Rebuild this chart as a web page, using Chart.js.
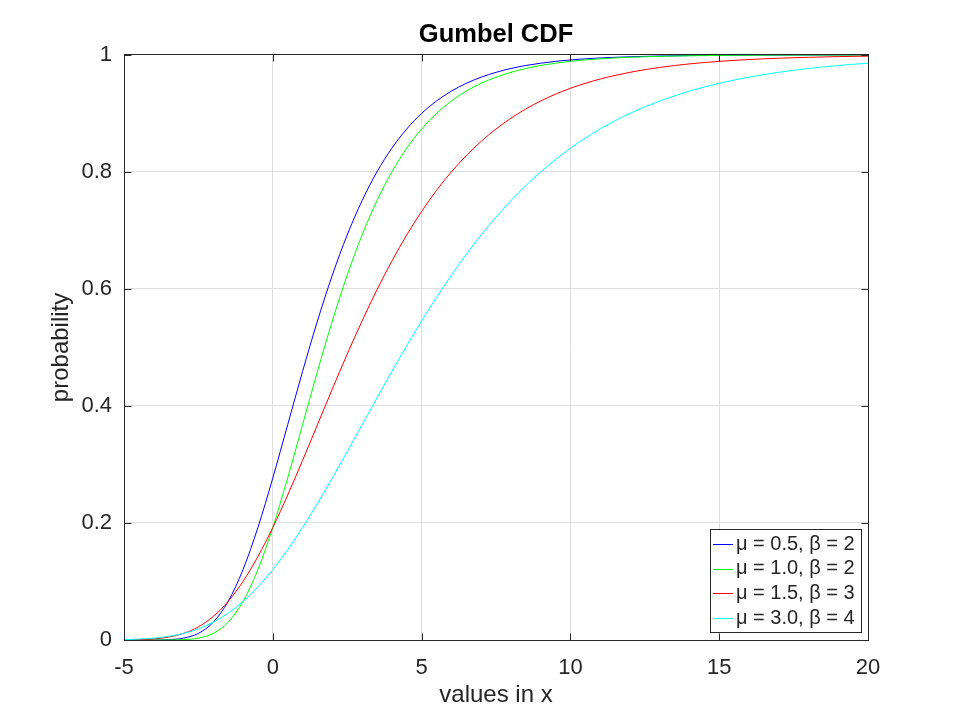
<!DOCTYPE html>
<html><head><meta charset="utf-8">
<script src="https://cdn.jsdelivr.net/npm/chart.js@4/dist/chart.umd.min.js"></script>
<style>html,body{margin:0;padding:0;background:#fff;} canvas{display:block;}</style>
</head><body>
<div style="width:960px;height:720px"><canvas id="c" width="960" height="720"></canvas></div>
<script>
const xValues = [-5,-4.5,-4,-3.5,-3,-2.5,-2,-1.5,-1,-0.5,0,0.5,1,1.5,2,2.5,3,3.5,4,4.5,5,5.5,6,6.5,7,7.5,8,8.5,9,9.5,10,10.5,11,11.5,12,12.5,13,13.5,14,14.5,15,15.5,16,16.5,17,17.5,18,18.5,19,19.5,20];
const blueSeries = [0.0000,0.0000,0.0001,0.0006,0.0032,0.0113,0.0305,0.0660,0.1204,0.1923,0.2769,0.3679,0.4589,0.5452,0.6235,0.6922,0.7509,0.8000,0.8405,0.8734,0.9000,0.9212,0.9381,0.9514,0.9619,0.9702,0.9768,0.9819,0.9858,0.9890,0.9914,0.9933,0.9948,0.9959,0.9968,0.9975,0.9981,0.9985,0.9988,0.9991,0.9993,0.9994,0.9996,0.9997,0.9997,0.9998,0.9998,0.9999,0.9999,0.9999,0.9999];
const greenSeries = [0.0000,0.0000,0.0000,0.0001,0.0006,0.0032,0.0113,0.0305,0.0660,0.1204,0.1923,0.2769,0.3679,0.4589,0.5452,0.6235,0.6922,0.7509,0.8000,0.8405,0.8734,0.9000,0.9212,0.9381,0.9514,0.9619,0.9702,0.9768,0.9819,0.9858,0.9890,0.9914,0.9933,0.9948,0.9959,0.9968,0.9975,0.9981,0.9985,0.9988,0.9991,0.9993,0.9994,0.9996,0.9997,0.9997,0.9998,0.9998,0.9999,0.9999,0.9999];
const redSeries = [0.0002,0.0006,0.0019,0.0050,0.0113,0.0225,0.0403,0.0660,0.1002,0.1426,0.1923,0.2477,0.3069,0.3679,0.4289,0.4885,0.5452,0.5985,0.6475,0.6922,0.7324,0.7683,0.8000,0.8279,0.8522,0.8734,0.8917,0.9076,0.9212,0.9329,0.9429,0.9514,0.9588,0.9649,0.9702,0.9747,0.9786,0.9819,0.9846,0.9870,0.9890,0.9906,0.9921,0.9933,0.9943,0.9952,0.9959,0.9965,0.9971,0.9975,0.9979];
const cyanSeries = [0.0006,0.0015,0.0032,0.0062,0.0113,0.0192,0.0305,0.0459,0.0660,0.0908,0.1204,0.1544,0.1923,0.2334,0.2769,0.3220,0.3679,0.4137,0.4589,0.5029,0.5452,0.5855,0.6235,0.6591,0.6922,0.7228,0.7509,0.7766,0.8000,0.8213,0.8405,0.8578,0.8734,0.8875,0.9000,0.9112,0.9212,0.9301,0.9381,0.9452,0.9514,0.9570,0.9619,0.9664,0.9702,0.9737,0.9768,0.9795,0.9819,0.9840,0.9858];
const seriesLabels = ['μ = 0.5, β = 2','μ = 1.0, β = 2','μ = 1.5, β = 3','μ = 3.0, β = 4'];
const seriesColors = ['#0000ff','#00ff00','#ff0000','#00ffff'];
const xTicks = [-5,0,5,10,15,20];
const yTicks = [0,0.2,0.4,0.6,0.8,1];
const titleText = 'Gumbel CDF';
const xTitle = 'values in x';
const yTitle = 'probability';

const FONT = "'Liberation Sans', Arial, Helvetica, sans-serif";
const AX = '#262626';
const GRID = '#dedede';

const allSeries = [blueSeries, greenSeries, redSeries, cyanSeries];
const datasets = allSeries.map((s, i) => ({
  label: seriesLabels[i],
  data: xValues.map((x, j) => ({x: x, y: s[j]})),
  borderColor: seriesColors[i],
  backgroundColor: seriesColors[i],
  borderWidth: 1,
  pointRadius: 0,
  fill: false,
  cubicInterpolationMode: 'monotone',
  order: allSeries.length - i
}));

const boxPlugin = {
  id: 'boxPlugin',
  afterDatasetsDraw(chart) {
    const {ctx, chartArea: a, scales} = chart;
    ctx.save();
    ctx.strokeStyle = AX;
    ctx.lineWidth = 1;
    const L = Math.round(a.left) + 0.5, R = Math.round(a.right) + 0.5;
    const T = Math.floor(a.top) + 0.5, B = Math.round(a.bottom) + 0.5;
    ctx.strokeRect(L, T, R - L, B - T);
    const tl = 7;
    ctx.beginPath();
    xTicks.forEach(v => {
      const px = Math.round(scales.x.getPixelForValue(v)) + 0.5;
      ctx.moveTo(px, B); ctx.lineTo(px, B - tl);
      ctx.moveTo(px, T); ctx.lineTo(px, T + tl);
    });
    yTicks.forEach(v => {
      const py = Math.round(scales.y.getPixelForValue(v)) + 0.5;
      ctx.moveTo(L, py); ctx.lineTo(L + tl, py);
      ctx.moveTo(R, py); ctx.lineTo(R - tl, py);
    });
    ctx.stroke();
    ctx.restore();
  },
  afterDraw(chart) {
    const {ctx, chartArea: a} = chart;
    ctx.save();
    ctx.font = '20px ' + FONT;
    const tw = Math.max(...seriesLabels.map(l => ctx.measureText(l).width));
    const rowH = 24.7;
    const w = 3 + 20 + 3 + tw + 6;
    const h = 15 + rowH * 3 + 14;
    const right = Math.round(a.right - 7), bottom = Math.round(a.bottom - 8);
    const left = Math.round(right - w), top = Math.round(bottom - h);
    ctx.fillStyle = '#fff';
    ctx.fillRect(left, top, right - left, bottom - top);
    ctx.strokeStyle = AX;
    ctx.lineWidth = 1;
    ctx.strokeRect(left + 0.5, top + 0.5, right - left, bottom - top);
    ctx.textBaseline = 'middle';
    ctx.textAlign = 'left';
    seriesLabels.forEach((l, i) => {
      const y = top + 15 + i * rowH;
      ctx.strokeStyle = seriesColors[i];
      ctx.beginPath();
      ctx.moveTo(left + 3, Math.round(y) + 0.5);
      ctx.lineTo(left + 23, Math.round(y) + 0.5);
      ctx.stroke();
      ctx.fillStyle = AX;
      ctx.fillText(l, left + 26, y);
    });
    ctx.restore();
  }
};

new Chart(document.getElementById('c'), {
  type: 'line',
  data: {datasets},
  plugins: [boxPlugin],
  options: {
    responsive: false,
    animation: false,
    devicePixelRatio: 1,
    layout: {padding: {left: 0, right: 92, top: 0, bottom: 0}},
    plugins: {
      legend: {display: false},
      tooltip: {enabled: false},
      title: {
        display: true, text: titleText, color: '#000', fullSize: false,
        font: {family: FONT, size: 25.5, weight: 'bold'},
        padding: {top: 19.3, bottom: 5}
      }
    },
    scales: {
      x: {
        type: 'linear', min: -5, max: 20,
        afterBuildTicks: s => { s.ticks = xTicks.map(v => ({value: v})); },
        afterFit: s => { s.height = 80; },
        grid: {color: GRID, drawTicks: false},
        border: {display: false},
        ticks: {padding: 15, color: AX, maxRotation: 0, font: {family: FONT, size: 22}},
        title: {display: true, text: xTitle, color: AX, font: {family: FONT, size: 24}, padding: {top: 0, bottom: 10.6}}
      },
      y: {
        type: 'linear', min: 0, max: 1,
        afterBuildTicks: s => { s.ticks = yTicks.map(v => ({value: v})); },
        afterFit: s => { s.width = 124; },
        grid: {color: GRID, drawTicks: false},
        border: {display: false},
        ticks: {padding: 12, color: AX, font: {family: FONT, size: 22}, callback: v => String(+v.toFixed(1))},
        title: {display: true, text: yTitle, color: AX, font: {family: FONT, size: 24}, padding: {top: 46.8, bottom: 0}}
      }
    }
  }
});
</script>
</body></html>
